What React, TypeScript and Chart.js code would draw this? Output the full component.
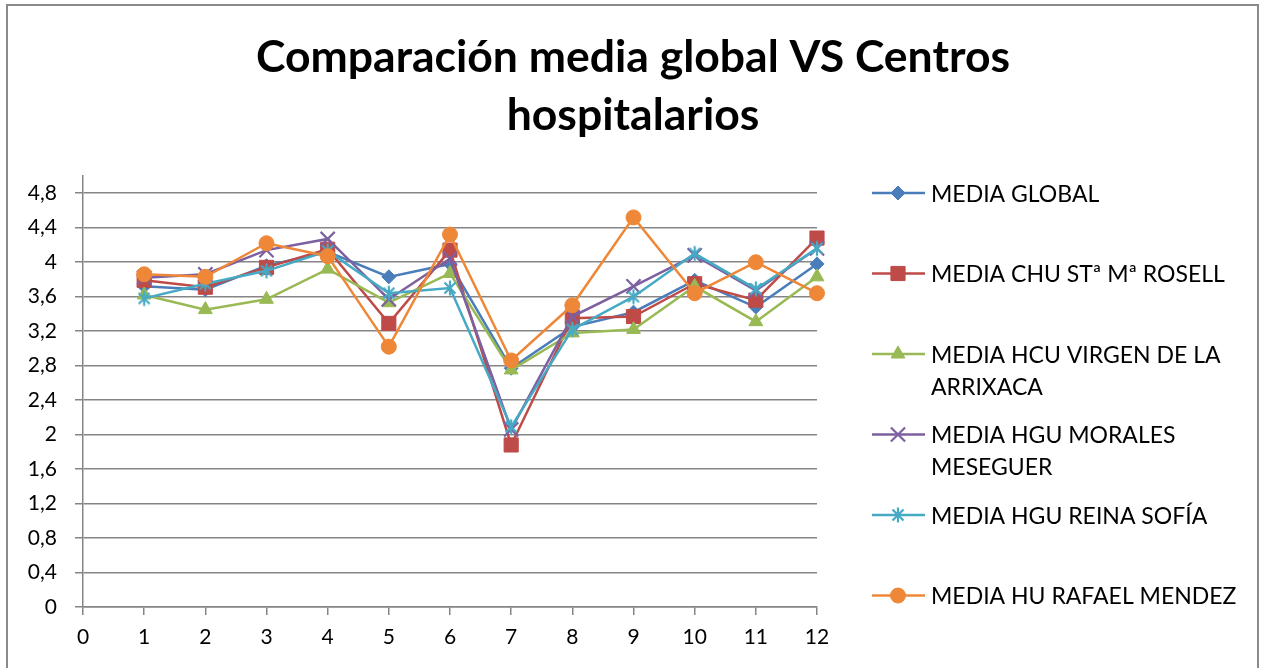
import React, { useEffect, useRef } from 'react';
import { Chart, registerables } from 'chart.js';
import { drawPoint } from 'chart.js/helpers';

Chart.register(...registerables);

// ---- data ----
const xValues = [1, 2, 3, 4, 5, 6, 7, 8, 9, 10, 11, 12];
const mediaGlobal = [3.72, 3.68, 3.96, 4.12, 3.83, 3.98, 2.77, 3.25, 3.42, 3.79, 3.48, 3.98];
const mediaChu = [3.79, 3.71, 3.94, 4.15, 3.29, 4.14, 1.88, 3.35, 3.37, 3.75, 3.56, 4.28];
const mediaHcu = [3.62, 3.45, 3.57, 3.92, 3.53, 3.87, 2.75, 3.18, 3.22, 3.72, 3.31, 3.83];
const mediaMorales = [3.82, 3.86, 4.14, 4.27, 3.57, 4.04, 2.06, 3.37, 3.72, 4.08, 3.67, 4.16];
const mediaReina = [3.58, 3.75, 3.9, 4.13, 3.64, 3.7, 2.09, 3.22, 3.6, 4.1, 3.69, 4.16];
const mediaRafael = [3.86, 3.83, 4.22, 4.07, 3.02, 4.32, 2.86, 3.5, 4.52, 3.64, 4.0, 3.64];

const seriesValues = [mediaGlobal, mediaChu, mediaHcu, mediaMorales, mediaReina, mediaRafael];
const legendLines = [
  ['MEDIA GLOBAL'],
  ['MEDIA CHU STª Mª ROSELL'],
  ['MEDIA HCU VIRGEN DE LA', 'ARRIXACA'],
  ['MEDIA HGU MORALES', 'MESEGUER'],
  ['MEDIA HGU REINA SOFÍA'],
  ['MEDIA HU RAFAEL MENDEZ'],
];
const titleLines = ['Comparación media global VS Centros', 'hospitalarios'];
const yTickMax = 4.8;
const yAxisMax = 5;
const yStep = 0.4;
const xMin = 0;
const xMax = 12;

// ---- styles ----
const colors = ['#4A7EBB', '#BE4B48', '#98B954', '#7D60A0', '#46AAC5', '#EE8838'];
const pointStyles = ['rectRot', 'rect', 'triangle', 'crossRot', 'asterisk', 'circle'];
const pointRadii = [7, 10, 8, 10, 8, 7.5];
const FONT = 'Lato, "Open Sans", sans-serif';
const GRID = '#858585';

function makeAsterisk(color: string) {
  const c = document.createElement('canvas');
  c.width = 18;
  c.height = 18;
  const g = c.getContext('2d')!;
  g.strokeStyle = color;
  g.lineWidth = 2.2;
  g.lineCap = 'butt';
  g.beginPath();
  g.moveTo(9, 1.5);
  g.lineTo(9, 16.5);
  g.moveTo(3.5, 3.5);
  g.lineTo(14.5, 14.5);
  g.moveTo(14.5, 3.5);
  g.lineTo(3.5, 14.5);
  g.stroke();
  return c;
}

export default function App() {
  const ref = useRef<HTMLCanvasElement | null>(null);

  useEffect(() => {
    const canvas = ref.current;
    if (!canvas) return;

    const datasets = seriesValues.map((vals, i) => {
      const style: any = pointStyles[i] === 'asterisk' ? makeAsterisk(colors[i]) : pointStyles[i];
      const stroked = pointStyles[i] === 'crossRot';
      return {
        label: legendLines[i].join(' '),
        data: xValues.map((x, k) => ({ x, y: vals[k] })),
        borderColor: colors[i],
        backgroundColor: colors[i],
        borderWidth: 2.5,
        pointStyle: style,
        pointRadius: pointRadii[i],
        pointHoverRadius: pointRadii[i],
        pointBackgroundColor: colors[i],
        pointBorderColor: colors[i],
        pointBorderWidth: stroked ? 2.2 : 1,
        tension: 0,
        fill: false,
        clip: false as any,
        order: seriesValues.length - i,
      };
    });

    const titlePlugin = {
      id: 'excelTitle',
      afterDraw(chart: any) {
        const ctx = chart.ctx;
        ctx.save();
        ctx.fillStyle = '#000';
        ctx.font = `bold 44.5px ${FONT}`;
        ctx.textAlign = 'center';
        ctx.textBaseline = 'alphabetic';
        titleLines.forEach((t, j) => ctx.fillText(t, 633, 72 + j * 58));
        ctx.restore();
      },
    };

    const legendPlugin = {
      id: 'sideLegend',
      afterDraw(chart: any) {
        const ctx = chart.ctx;
        ctx.save();
        chart.data.datasets.forEach((ds: any, i: number) => {
          const y = 193 + i * 80.5;
          ctx.strokeStyle = ds.borderColor;
          ctx.lineWidth = 2.5;
          ctx.beginPath();
          ctx.moveTo(872, y);
          ctx.lineTo(925, y);
          ctx.stroke();
          ctx.fillStyle = ds.pointBackgroundColor;
          ctx.strokeStyle = ds.pointBorderColor;
          ctx.lineWidth = ds.pointBorderWidth;
          drawPoint(
            ctx,
            { pointStyle: ds.pointStyle, radius: ds.pointRadius, borderWidth: ds.pointBorderWidth, rotation: 0 } as any,
            898,
            y
          );
          ctx.fillStyle = '#000';
          ctx.font = `23px ${FONT}`;
          ctx.textAlign = 'left';
          ctx.textBaseline = 'alphabetic';
          legendLines[i].forEach((t, j) => ctx.fillText(t, 931, y + 8.5 + j * 32));
        });
        ctx.restore();
      },
    };

    const fmt = (v: any) => (Math.round(Number(v) * 10) / 10).toString().replace('.', ',');

    const chart = new Chart(canvas, {
      type: 'line',
      data: { datasets: datasets as any },
      options: {
        responsive: false,
        animation: false,
        events: [],
        layout: { padding: { left: 23, top: 176, right: 447, bottom: 11 } },
        plugins: {
          legend: { display: false },
          title: { display: false },
          tooltip: { enabled: false },
        },
        scales: {
          x: {
            type: 'linear',
            min: xMin,
            max: xMax,
            ticks: {
              stepSize: 1,
              padding: 10,
              color: '#000',
              font: { family: FONT, size: 21 },
              maxRotation: 0,
            },
            grid: { drawOnChartArea: false, drawTicks: true, tickLength: 8, color: GRID, lineWidth: 1.5 },
            border: { display: true, color: GRID, width: 1.5 },
            afterFit: (s: any) => {
              s.height = 50;
            },
          },
          y: {
            type: 'linear',
            min: 0,
            max: yAxisMax,
            afterBuildTicks: (s: any) => {
              s.ticks = s.ticks.filter((t: any) => t.value <= yTickMax + 1e-6);
            },
            ticks: {
              stepSize: yStep,
              includeBounds: false,
              padding: 18,
              color: '#000',
              font: { family: FONT, size: 21 },
              callback: fmt,
            },
            grid: { drawTicks: true, tickLength: 8, color: GRID, lineWidth: 1.5 },
            border: { display: true, color: GRID, width: 1.5 },
            afterFit: (s: any) => {
              s.width = 60;
            },
          },
        } as any,
      },
      plugins: [titlePlugin, legendPlugin],
    });

    return () => chart.destroy();
  }, []);

  return (
    <div
      style={{
        position: 'fixed',
        left: 0,
        top: 0,
        width: 1264,
        height: 668,
        overflow: 'hidden',
        background: '#fff',
      }}
    >
      <div
        style={{
          position: 'absolute',
          left: 6,
          top: 4,
          width: 1249,
          height: 720,
          border: '2px solid #8a8a8a',
          boxSizing: 'content-box',
        }}
      />
      <canvas
        ref={ref}
        width={1264}
        height={668}
        style={{ position: 'absolute', left: 0, top: 0, width: 1264, height: 668 }}
      />
    </div>
  );
}
